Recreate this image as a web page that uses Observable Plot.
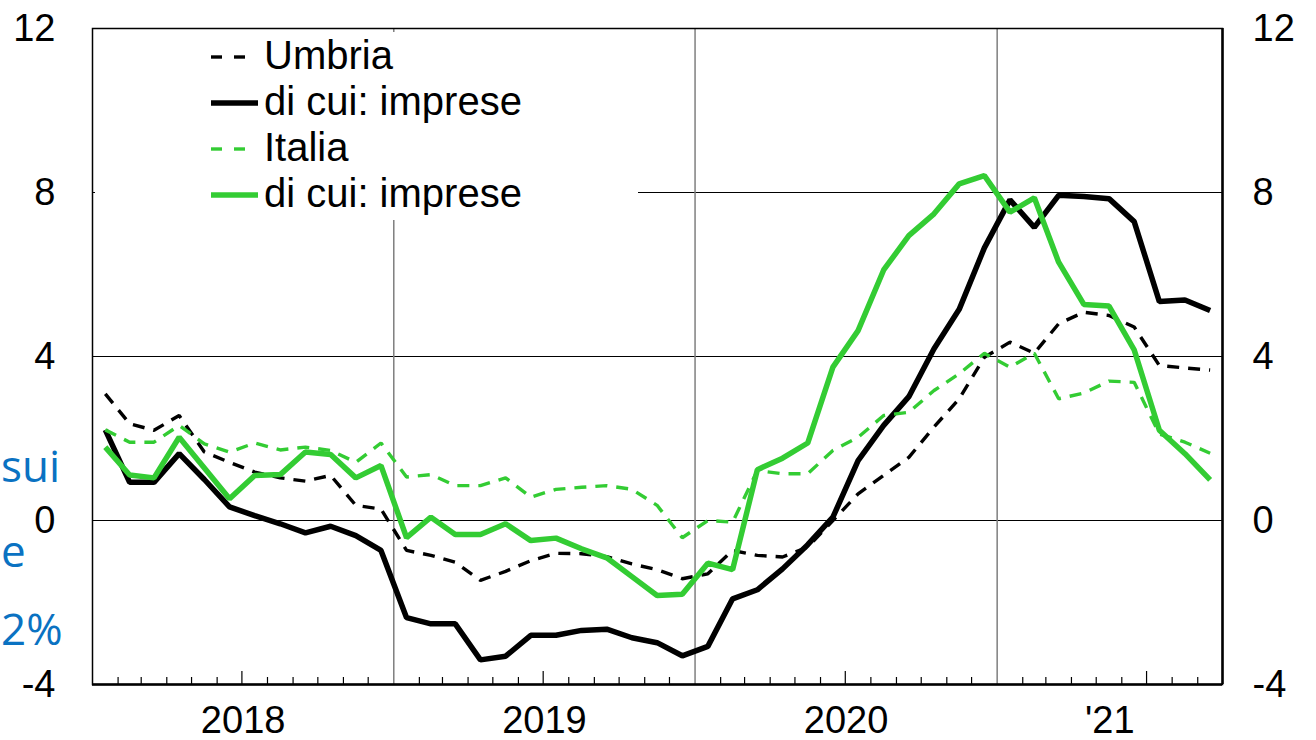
<!DOCTYPE html>
<html>
<head>
<meta charset="utf-8">
<script src="https://cdn.jsdelivr.net/npm/d3@7"></script>
<script src="https://cdn.jsdelivr.net/npm/@observablehq/plot@0.6"></script>
<style>
  body { margin: 0; background: #fff; }
  #wrap { position: relative; width: 1316px; height: 740px; overflow: hidden; font-family: "Liberation Sans", Arial, sans-serif; }
  #chart svg { display: block; }
  #legend { position: absolute; left: 95px; top: 32px; }
  #side { position: absolute; left: 0; top: 0; }
</style>
</head>
<body>
<div id="wrap">
  <div id="chart"></div>
  <svg id="legend" width="543" height="188"></svg>
  <svg id="side" width="90" height="740"></svg>
</div>
<script>
// ---------- data (monthly, Jan 2018 - Sep 2021) ----------
const startYear = 2018, startMonth = 0;          // January 2018
const endYear = 2021, endMonth = 9;              // domain ends at October 2021 (exclusive)

const umbria = [3.09, 2.36, 2.20, 2.56, 1.67, 1.42, 1.18, 1.04, 0.96, 1.10, 0.37, 0.28,
  -0.73, -0.85, -1.02, -1.46, -1.24, -0.98, -0.80, -0.81, -0.88, -1.06, -1.20, -1.42,
  -1.30, -0.73, -0.85, -0.89, -0.65, 0.00, 0.65, 1.10, 1.54, 2.28, 2.97, 3.98,
  4.35, 4.08, 4.80, 5.08, 5.00, 4.72, 3.78, 3.72, 3.67];

const umbriaImprese = [2.21, 0.93, 0.93, 1.63, 1.00, 0.33, 0.12, -0.08, -0.30, -0.14, -0.37, -0.73,
  -2.37, -2.52, -2.52, -3.40, -3.31, -2.80, -2.80, -2.68, -2.65, -2.86, -2.98, -3.30,
  -3.07, -1.91, -1.69, -1.18, -0.59, 0.08, 1.46, 2.32, 3.02, 4.19, 5.15, 6.65,
  7.82, 7.15, 7.93, 7.90, 7.85, 7.29, 5.34, 5.38, 5.12];

const italia = [2.21, 1.91, 1.91, 2.32, 1.87, 1.67, 1.89, 1.72, 1.79, 1.71, 1.42, 1.89,
  1.06, 1.12, 0.85, 0.85, 1.04, 0.57, 0.76, 0.81, 0.85, 0.76, 0.37, -0.42,
  0.00, -0.04, 1.22, 1.14, 1.14, 1.71, 2.03, 2.56, 2.64, 3.17, 3.58, 4.08,
  3.74, 4.08, 2.97, 3.11, 3.40, 3.37, 2.11, 1.91, 1.64];

const italiaImprese = [1.79, 1.11, 1.04, 2.03, 1.28, 0.53, 1.10, 1.12, 1.67, 1.61, 1.04, 1.34,
  -0.42, 0.08, -0.34, -0.34, -0.08, -0.49, -0.43, -0.69, -0.91, -1.37, -1.83, -1.80,
  -1.04, -1.20, 1.24, 1.52, 1.89, 3.74, 4.63, 6.11, 6.95, 7.48, 8.21, 8.41,
  7.52, 7.87, 6.30, 5.27, 5.23, 4.16, 2.20, 1.63, 0.99];

const seriesNames = ["Umbria", "di cui: imprese", "Italia", "di cui: imprese"];
const yTicks = [-4, 0, 4, 8, 12];
const yTickLabels = ["-4", "0", "4", "8", "12"];
const gridY = [0, 4, 8];
const yearLabels = ["2018", "2019", "2020", "'21"];
const sideTexts = ["sui", "e", "2%"];

// ---------- styles ----------
const BLACK = "#000000", GREEN = "#33CC33";
const seriesStyle = [
  { stroke: BLACK, strokeWidth: 3.4, dash: "12,9" },
  { stroke: BLACK, strokeWidth: 5.5, dash: null },
  { stroke: GREEN, strokeWidth: 3.4, dash: "12,9" },
  { stroke: GREEN, strokeWidth: 5.5, dash: null }
];
const allValues = [umbria, umbriaImprese, italia, italiaImprese];

const W = 1316, H = 740;
const mL = 92, mR = 94, mT = 28, mB = 56;
const innerH = H - mT - mB;
const FS = 38, LFS = 40;

// ---------- derived ----------
const d0 = new Date(Date.UTC(startYear, startMonth, 1));
const d1 = new Date(Date.UTC(endYear, endMonth, 1));
const months = d3.utcMonth.range(d0, d1);
const midMonth = m => new Date((+m + +d3.utcMonth.offset(m, 1)) / 2);

const rows = [];
allValues.forEach((vals, s) => vals.forEach((v, i) => rows.push({ s, date: midMonth(months[i]), value: v })));

const yearStarts = d3.utcYear.range(d3.utcYear.offset(d0, 1), d1);
const monthTicks = d3.utcMonth.range(d3.utcMonth.offset(d0, 1), d1).filter(d => d.getUTCMonth() !== 0);
const shortTicks = monthTicks.filter(d => d.getUTCMonth() !== 6);
const longTicks = monthTicks.filter(d => d.getUTCMonth() === 6);
const yearCenters = d3.utcYear.range(d3.utcYear.floor(d0), d1).map(y => {
  const e = d3.min([d3.utcYear.offset(y, 1), d1]);
  return new Date((+y + +e) / 2);
});
const yearLabelMap = new Map(yearCenters.map((d, i) => [+d, yearLabels[i]]));
const yLabelMap = new Map(yTicks.map((d, i) => [d, yTickLabels[i]]));

const lineMarks = allValues.map((_, s) => Plot.line(rows.filter(r => r.s === s), {
  x: "date", y: "value",
  stroke: seriesStyle[s].stroke,
  strokeWidth: seriesStyle[s].strokeWidth,
  strokeDasharray: seriesStyle[s].dash,
  strokeLinejoin: "miter",
  strokeLinecap: "butt"
}));

const chart = Plot.plot({
  width: W, height: H,
  marginLeft: mL, marginRight: mR, marginTop: mT, marginBottom: mB,
  style: { fontFamily: '"Liberation Sans", Arial, sans-serif', fontSize: FS + "px", background: "#fff", color: "#000" },
  x: { type: "utc", domain: [d0, d1] },
  y: { domain: [-4, 12] },
  marks: [
    Plot.ruleY(gridY, { stroke: "#000", strokeWidth: 1 }),
    Plot.ruleX(yearStarts, { stroke: "#7f7f7f", strokeWidth: 1.5 }),
    Plot.ruleX(shortTicks, { stroke: "#000", strokeWidth: 1.2, insetTop: innerH - 7 }),
    Plot.ruleX(longTicks, { stroke: "#000", strokeWidth: 1.2, insetTop: innerH - 13 }),
    ...lineMarks,
    Plot.frame({ stroke: "#000", strokeWidth: 1.5 }),
    Plot.ruleY([-4], { stroke: "#000", strokeWidth: 2.5 }),
    Plot.ruleX([d1], { stroke: "#000", strokeWidth: 2.5 }),
    Plot.axisY(yTicks, { anchor: "left", tickSize: 0, tickPadding: 37, fontSize: FS, label: null,
      tickFormat: d => yLabelMap.get(d) }),
    Plot.axisY(yTicks, { anchor: "right", tickSize: 0, tickPadding: 30, fontSize: FS, label: null,
      tickFormat: d => yLabelMap.get(d) }),
    Plot.axisX(yearCenters, { anchor: "bottom", tickSize: 0, tickPadding: 22, fontSize: FS, label: null,
      tickFormat: d => yearLabelMap.get(+d) })
  ]
});
document.getElementById("chart").appendChild(chart);

// ---------- legend (white box over the plot) ----------
const lg = d3.select("#legend");
lg.append("rect").attr("width", 543).attr("height", 188).attr("fill", "#fff");
seriesNames.forEach((name, i) => {
  const base = 37 + 46 * i;
  const st = seriesStyle[i];
  const ly = base - 12;
  if (st.dash) {
    lg.append("line").attr("x1", 116).attr("x2", 127).attr("y1", ly).attr("y2", ly)
      .attr("stroke", st.stroke).attr("stroke-width", st.strokeWidth);
    lg.append("line").attr("x1", 139).attr("x2", 150).attr("y1", ly).attr("y2", ly)
      .attr("stroke", st.stroke).attr("stroke-width", st.strokeWidth);
  } else {
    lg.append("line").attr("x1", 116).attr("x2", 163).attr("y1", ly).attr("y2", ly)
      .attr("stroke", st.stroke).attr("stroke-width", st.strokeWidth);
  }
  lg.append("text").attr("x", 169).attr("y", base).text(name)
    .attr("font-family", '"Liberation Sans", Arial, sans-serif').attr("font-size", LFS).attr("fill", "#000");
});

// ---------- blue text at the left edge ----------
const side = d3.select("#side");
const sideBase = [482, 567, 645];
sideTexts.forEach((t, i) => {
  side.append("text").attr("x", 1).attr("y", sideBase[i]).attr("text-anchor", "start")
    .attr("font-family", '"Open Sans", sans-serif').attr("font-size", 44).attr("fill", "#0A72C2").text(t);
});
</script>
</body>
</html>
